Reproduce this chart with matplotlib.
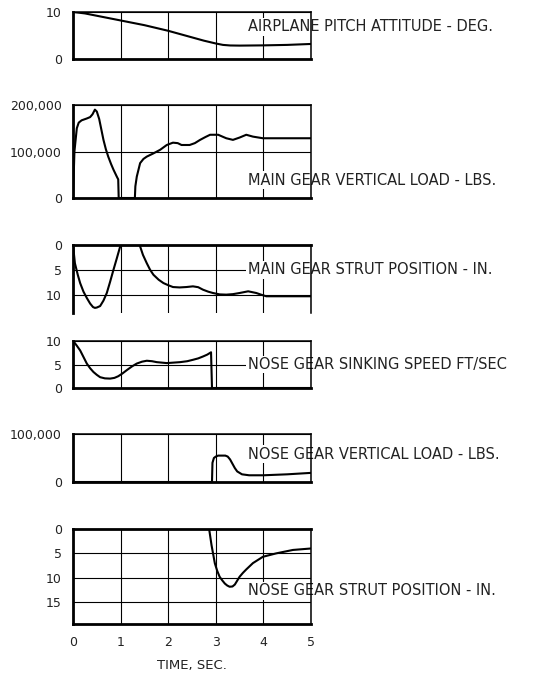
import matplotlib
matplotlib.use("Agg")
import matplotlib.pyplot as plt

# time axis (sec) and curves
pitch_t = [0, 0.25, 0.5, 0.75, 1.0, 1.25, 1.5, 1.75, 2.0, 2.25, 2.5, 2.75, 3.0, 3.15, 3.3, 3.5, 4.0, 4.5, 5.0]
pitch_deg = [10, 9.7, 9.2, 8.7, 8.2, 7.7, 7.2, 6.6, 6.0, 5.3, 4.6, 3.9, 3.3, 3.0, 2.88, 2.85, 2.9, 3.0, 3.2]

mg_load_t = [0, 0.03, 0.08, 0.12, 0.18, 0.29, 0.36, 0.41, 0.46, 0.5, 0.55, 0.6, 0.64, 0.69, 0.74, 0.8, 0.85,
             0.92, 0.95, 0.96,
             1.3, 1.31, 1.34, 1.41, 1.48, 1.55, 1.69, 1.83, 1.97, 2.1, 2.2, 2.28, 2.45, 2.56, 2.67, 2.78,
             2.88, 3.05, 3.14, 3.22, 3.36, 3.5, 3.64, 3.78, 3.99, 5.0]
mg_load_lbs = [0, 100000, 150000, 162000, 167000, 171000, 174000, 180000, 190000, 186000, 170000, 145000, 125000,
               105000, 89000, 73000, 61000, 46000, 40000, 0,
               0, 25000, 46000, 75000, 84000, 89000, 96000, 103600, 114000, 119000, 118000, 114000, 114000,
               118000, 125000, 131000, 136000, 136000, 132000, 128500, 125000, 130000, 136000, 132000,
               128500, 128500]

mg_strut_t = [0, 0.04, 0.1, 0.15, 0.22, 0.29, 0.36, 0.42, 0.46, 0.5, 0.57, 0.64, 0.71, 0.78, 0.85, 0.92, 0.99,
              1.02, 1.4, 1.47, 1.55, 1.62, 1.69, 1.8, 1.9, 2.0, 2.1, 2.24, 2.38, 2.52, 2.63,
              2.73, 2.84, 2.94, 3.08, 3.22, 3.36, 3.5, 3.68, 3.85, 3.95, 4.06, 5.0]
mg_strut_in = [0, 3.67, 6.0, 7.67, 9.4, 10.67, 11.8, 12.5, 12.67, 12.6, 12.3, 11.2, 9.67, 7.4, 5.0, 2.7, 0.33,
               0, 0, 2.0, 3.67, 5.0, 6.0, 7.0, 7.67, 8.1, 8.47, 8.55, 8.47, 8.33, 8.5,
               9.0, 9.4, 9.67, 9.95, 10.0, 9.9, 9.67, 9.33, 9.67, 10.0, 10.33, 10.33]

ng_speed_t = [0, 0.02, 0.08, 0.15, 0.22, 0.29, 0.36, 0.43, 0.5, 0.57, 0.67, 0.78, 0.87, 0.95, 1.04, 1.13, 1.24,
              1.34, 1.45, 1.55, 1.66, 1.76, 1.97, 2.25, 2.4, 2.52, 2.63, 2.73, 2.82, 2.9, 2.92, 5.0]
ng_speed_fps = [10, 9.8, 9.0, 8.0, 6.6, 5.2, 4.2, 3.4, 2.8, 2.3, 2.05, 2.0, 2.15, 2.5, 3.1, 3.8, 4.6,
                5.2, 5.6, 5.8, 5.7, 5.5, 5.3, 5.5, 5.7, 6.0, 6.3, 6.7, 7.1, 7.6, 0, 0]

ng_load_t = [0, 2.92, 2.93, 2.96, 3.0, 3.05, 3.2, 3.25, 3.3, 3.35, 3.4, 3.45, 3.55, 3.7, 4.0, 4.5, 5.0]
ng_load_lbs = [0, 0, 40000, 50000, 53000, 55000, 55000, 53000, 47000, 38000, 29000, 22000, 16000, 14000, 14000,
               16000, 19000]

ng_strut_t = [2.86, 2.91, 2.98, 3.03, 3.08, 3.14, 3.19, 3.24, 3.29, 3.35, 3.4, 3.45, 3.5, 3.57, 3.64, 3.78,
              3.99, 4.27, 4.62, 5.0]
ng_strut_in = [0, 3.3, 7.05, 8.6, 9.8, 10.6, 11.2, 11.6, 11.85, 11.8, 11.4, 10.6, 9.8, 9.0, 8.3, 7.0,
               5.7, 5.0, 4.3, 4.0]

x_ticks = [0, 1, 2, 3, 4, 5]

panels = [
    # (t, values, ylim, yticks, yticklabels, label, label_y, inverted)
    (pitch_t, pitch_deg, (0, 10), [0, 10], ["0", "10"],
     "AIRPLANE PITCH ATTITUDE - DEG.", 6.9, False),
    (mg_load_t, mg_load_lbs, (0, 200000), [0, 100000, 200000], ["0", "100,000", "200,000"],
     "MAIN GEAR VERTICAL LOAD - LBS.", 38700, False),
    (mg_strut_t, mg_strut_in, (13.7, 0), [0, 5, 10], ["0", "5", "10"],
     "MAIN GEAR STRUT POSITION - IN.", 5, True),
    (ng_speed_t, ng_speed_fps, (0, 10), [0, 5, 10], ["0", "5", "10"],
     "NOSE GEAR SINKING SPEED FT/SEC", 5, False),
    (ng_load_t, ng_load_lbs, (0, 100000), [0, 100000], ["0", "100,000"],
     "NOSE GEAR VERTICAL LOAD - LBS.", 57400, False),
    (ng_strut_t, ng_strut_in, (19.5, 0), [0, 5, 10, 15], ["0", "5", "10", "15"],
     "NOSE GEAR STRUT POSITION - IN.", 12.65, True),
]

# pixel extents (top, bottom) of each panel frame
rows_px = [(12, 59), (105, 198), (245, 313), (341, 388), (434, 482), (529, 624)]

W, H = 543, 676
fig = plt.figure(figsize=(W / 100, H / 100), dpi=100)
plt.rcParams['font.family'] = ['DejaVu Sans']

left, right = 73, 311
for i, (t, v, ylim, yt, ytl, label, ly, inv) in enumerate(panels):
    top, bot = rows_px[i]
    ax = fig.add_axes([left / W, 1 - bot / H, (right - left) / W, (bot - top) / H])
    ax.plot(t, v, color="black", lw=1.5, zorder=2, solid_joinstyle="round")
    ax.set_xlim(0, 5)
    ax.set_ylim(*ylim)
    ax.set_xticks(x_ticks)
    ax.set_yticks(yt)
    ax.set_yticklabels(ytl, fontsize=9)
    ax.tick_params(length=0, pad=8, colors="#222222")
    ax.set_axisbelow(True)
    ax.grid(True, color="black", lw=0.8)

    for s in ax.spines.values():
        s.set_color("black")
        s.set_linewidth(1.1)
    ax.spines["left"].set_linewidth(2.0)
    if inv:
        ax.spines["top"].set_linewidth(2.0)
        if i == 2:
            ax.spines["bottom"].set_visible(False)
        else:
            ax.spines["bottom"].set_linewidth(2.0)
    else:
        ax.spines["bottom"].set_linewidth(2.0)

    if i == len(panels) - 1:
        ax.set_xticklabels([str(x) for x in x_ticks], fontsize=9)
        ax.tick_params(axis="x", pad=9)
        ax.set_xlabel("TIME, SEC.", fontsize=9.5, labelpad=7, color="#222222")
    else:
        ax.set_xticklabels([])

    ax.text(3.67, ly, label, fontsize=10.5, va="center", ha="left", color="#222222",
            clip_on=False, zorder=2.4,
            bbox=dict(facecolor="white", edgecolor="none", pad=1.0))

fig.savefig("out.png", dpi=100)
